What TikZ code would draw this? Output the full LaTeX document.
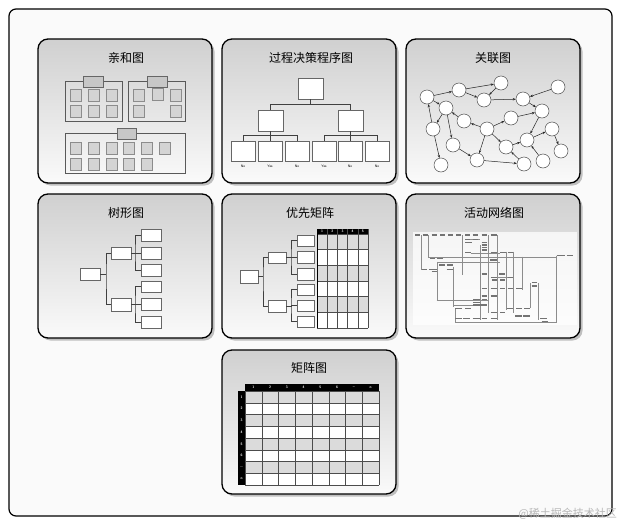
\documentclass[tikz,border=0pt]{standalone}
\usepackage{fontspec}
\newfontfamily\cjk{Noto Sans CJK SC}
\usetikzlibrary{arrows.meta,calc}
\definecolor{pgray}{RGB}{208,208,208}
\definecolor{pmid}{RGB}{234,234,234}
\definecolor{pwhite}{RGB}{250,250,250}
\newcommand\bx[6][]{\node[#1, inner sep=0pt, outer sep=0pt, minimum width={(#5)-(#3)}, minimum height={(#6)-(#4)}] (#2) at ({((#3)+(#5))/2},{((#4)+(#6))/2}) {};}
\begin{document}
\begin{tikzpicture}[x=1pt,y=-1pt,
  panel/.style={draw=black, line width=1.3pt, rounded corners=10pt, top color=pgray, middle color=pmid, bottom color=pwhite},
  pshadow/.style={fill=black!25, rounded corners=10pt},
  ttl/.style={font=\cjk\fontsize{12}{14}\selectfont, inner sep=0pt},
  grp/.style={draw=black!65, line width=0.6pt},
  tab/.style={draw=black!60, fill=black!22, line width=0.5pt},
  sq/.style={draw=black!45, fill=black!17, line width=0.4pt},
  wbox/.style={draw=black!60, fill=white, line width=0.5pt},
  conn/.style={draw=black!75, line width=0.6pt},
  lbl/.style={font=\sffamily\fontsize{3.5}{4}\selectfont, inner sep=0pt},
  circ/.style={circle, draw=black!70, fill=white, line width=0.5pt, minimum size=14pt, inner sep=0pt},
  arr/.style={-{Stealth[length=3pt,width=2.4pt]}, line width=0.5pt, black!85},
  mgrid/.style={draw=black!70, line width=0.45pt},
  hdr/.style={font=\sffamily\bfseries\fontsize{3.5}{4}\selectfont, text=white, inner sep=0pt},
  nbar/.style={draw=black!55, line width=1.1pt},
  nline/.style={draw=black!45, line width=0.3pt}]
\useasboundingbox (0,0) rectangle (621,525);
\fill[white] (0,0) rectangle (621,525);
% outer frame
\draw[line width=1.2pt, rounded corners=7pt, fill=white!98!black] (9,9) rectangle (612,516);
% panels
\foreach \px/\py in {38/39,222/39,406/39,38/194,222/194,406/194,222/350}{
  \fill[pshadow] (\px+2.5,\py+2.5) rectangle ++(174,144);
  \draw[panel] (\px,\py) rectangle ++(174,144);
}
% titles
\node[ttl] (t1) at (126,58) {亲和图};
\node[ttl] (t2) at (311,58) {过程决策程序图};
\node[ttl] (t3) at (493,58) {关联图};
\node[ttl] (t4) at (126,213) {树形图};
\node[ttl] (t5) at (310,213) {优先矩阵};
\node[ttl] (t6) at (494,213) {活动网络图};
\node[ttl] (t7) at (309,368) {矩阵图};

% ===== P1 affinity
\bx[grp]{ga}{65}{81}{122}{121}
\bx[grp]{gb}{128}{81}{185}{121}
\bx[grp]{gc}{65}{133}{185}{173}
\bx[tab]{ta}{83}{76}{103}{87}
\bx[tab]{tb}{147}{76}{167}{87}
\bx[tab]{tc}{117}{128}{136}{139}
\foreach \x/\y in {70/89,88/89,106/89,70/105,88/105,106/105,
                   133/89,152/88,170/89,133/105,170/105,
                   70/142,88/142,106/142,123/142,141/142,159/142,
                   70/158,88/158,106/158,123/158,141/158}
  \draw[sq] (\x,\y) rectangle ++(11,12);

% ===== P2 PDPC
\bx[wbox]{p0}{298}{78}{323}{99}
\bx[wbox]{pl}{258}{110}{283}{131}
\bx[wbox]{pr}{338}{110}{363}{131}
\foreach \n/\a/\b/\t in {1/231/255/No,2/258/282/Yes,3/285/309/No,4/312/336/Yes,5/338/362/No,6/365/389/No}{
  \bx[wbox]{pb\n}{\a}{141}{\b}{161}
  \node[lbl, anchor=north] (pt\n) at ([yshift=-4pt]pb\n.south) {\t};
}
\draw[conn] (p0.south) -- ++(0,5) -| (pl.north);
\draw[conn] (p0.south) -- ++(0,5) -| (pr.north);
\foreach \n in {1,2,3} \draw[conn] (pl.south) -- ++(0,4) -| (pb\n.north);
\foreach \n in {4,5,6} \draw[conn] (pr.south) -- ++(0,4) -| (pb\n.north);

% ===== P3 interrelationship
\foreach \n/\x/\y in {1/427/97,2/459/90,3/501/83,4/558/87,5/484/100,6/523/99,7/446/108,
  8/542/111,9/464/121,10/511/118,11/433/129,12/487/129,13/552/129,14/453/145,15/506/147,
  16/527/140,17/561/151,18/477/160,19/441/165,20/524/164,21/543/161}
  \node[circ] (c\n) at (\x,\y) {};
\foreach \a/\b in {1/2,2/3,3/5,2/5,5/6,4/6,6/8,1/7,11/1,7/11,11/19,7/14,9/7,12/9,12/10,10/8,
  12/18,14/18,12/15,15/16,8/16,16/13,13/17,18/20,20/15,21/16}
  \draw[arr] (c\a) -- (c\b);

% ===== P4 tree
\bx[wbox]{r4}{80}{268}{100}{280}
\bx[wbox]{m4a}{111}{247}{131}{259}
\bx[wbox]{m4b}{111}{298}{131}{311}
\foreach \n/\a/\b in {a/229/241,b/247/259,c/264/276,d/281/292,e/298/310,f/316/328}
  \bx[wbox]{l4\n}{141}{\a}{161}{\b}
\coordinate (j4) at (106,274);
\coordinate (k4a) at (135,253);
\coordinate (k4b) at (135,304.5);
\draw[conn] (r4.east) -- (j4);
\draw[conn] (m4a.west) -| (j4) |- (m4b.west);
\draw[conn] (m4a.east) -- (k4a);
\draw[conn] (m4b.east) -- (k4b);
\draw[conn] (l4a.west) -| (k4a) |- (l4c.west);
\draw[conn] (k4a) |- (l4b.west);
\draw[conn] (l4d.west) -| (k4b) |- (l4f.west);
\draw[conn] (k4b) |- (l4e.west);

% ===== P5 prioritization matrix
\bx[wbox]{r5}{240}{270}{258}{283}
\bx[wbox]{m5a}{268}{252}{286}{263}
\bx[wbox]{m5b}{268}{300}{286}{312}
\foreach \n/\a/\b in {a/235/246,b/251/263,c/268/280,d/284/295,e/300/311,f/316/327}
  \bx[wbox]{l5\n}{297}{\a}{314}{\b}
\coordinate (j5) at (263,276.5);
\coordinate (k5a) at (291,257.5);
\coordinate (k5b) at (291,306);
\draw[conn] (r5.east) -- (j5);
\draw[conn] (m5a.west) -| (j5) |- (m5b.west);
\draw[conn] (m5a.east) -- (k5a);
\draw[conn] (m5b.east) -- (k5b);
\draw[conn] (l5a.west) -| (k5a) |- (l5c.west);
\draw[conn] (k5a) |- (l5b.west);
\draw[conn] (l5d.west) -| (k5b) |- (l5f.west);
\draw[conn] (k5b) |- (l5e.west);
\fill[white] (317,234) rectangle (368,328);
\fill[black] (317,229) rectangle (368,234);
\foreach \i in {0,2,4} \fill[black!14] (317,234+\i*15.667) rectangle (368,234+\i*15.667+15.667);
\foreach \j in {0,...,5} \draw[mgrid] (317+\j*10.2,229) -- (317+\j*10.2,328);
\foreach \i in {0,...,6} \draw[mgrid] (317,234+\i*15.667) -- (368,234+\i*15.667);
\draw[line width=1pt] (317,229) -- (317,328);
\foreach \j in {1,...,5} \node[hdr] (h5\j) at (317+\j*10.2-5.1,231.5) {\j};

% ===== P6 activity network
\begin{scope}[shift={(400,190)}, x=0.33333pt, y=-0.33333pt]
  \fill[white, opacity=0.75] (38,125) rectangle (530,405);
  \foreach \a/\b/\c in {62/135/240,85/135/205,110/215/330,160/230/350,165/355/395,187/135/255,
    240/165/390,265/135/370,292/135/390,318/185/360,340/185/370,365/200/300,390/280/355,
    415/280/390,468/197/395}
    \draw[nline] (\a,\b) -- (\a,\c);
  \foreach \y/\a/\b in {200/85/470,217/115/300,330/110/265,345/160/240,395/165/470,
    148/210/240,188/212/300,262/290/323}
    \draw[nline] (\a,\y) -- (\b,\y);
  \foreach \a/\b/\y in {45/60/135,68/85/135,95/110/135,120/135/135,145/160/135,168/183/135,
    195/210/135,218/235/135,245/260/135,272/290/135,
    195/210/148,218/235/148,195/215/158,245/262/158,245/262/165,245/262/172,245/262/180,
    195/212/188,272/290/188,300/318/188,323/340/188,470/495/197,500/520/197,
    90/105/205,112/130/205,270/290/210,118/135/225,140/160/225,
    65/80/238,88/110/238,140/160/238,95/110/245,245/262/252,298/315/252,
    272/290/262,323/340/262,275/290/270,300/315/270,395/412/278,395/412/288,
    245/262/295,272/290/295,300/315/295,323/340/295,348/365/295,
    245/262/318,272/290/318,220/240/328,245/262/328,220/240/338,220/262/345,
    165/185/355,195/212/355,322/340/355,348/365/355,372/390/355,
    272/290/368,300/315/368,345/365/378,370/390/378,
    165/185/385,190/210/385,218/240/385,245/262/385,272/290/385,420/440/385,425/445/395}
    \draw[nbar] (\a,\y) -- (\b,\y);
\end{scope}

% ===== P7 matrix
\fill[white] (245,391) rectangle (379,485);
\fill[black] (245,384) rectangle (379,391);
\fill[black] (238,391) rectangle (245,485);
\foreach \i in {0,2,4,6} \fill[black!14] (245,391+\i*11.75) rectangle (379,391+\i*11.75+11.75);
\foreach \j in {0,...,8} \draw[mgrid] (245+\j*16.75,391) -- (245+\j*16.75,485);
\foreach \i in {0,...,8} \draw[mgrid] (245,391+\i*11.75) -- (379,391+\i*11.75);
\foreach \t [count=\j] in {1,2,3,4,5,6,\dots,n}{
  \node[hdr] (h7\j) at (245+\j*16.75-8.375,387.5) {\t};
  \node[hdr] (v7\j) at (241.5,391+\j*11.75-5.875) {\t};
}

% watermark
\node[font=\cjk\fontsize{11}{12}\selectfont, text=black!28, inner sep=0pt, anchor=east] (wm) at (617,514) {@稀土掘金技术社区};
\end{tikzpicture}
\end{document}
